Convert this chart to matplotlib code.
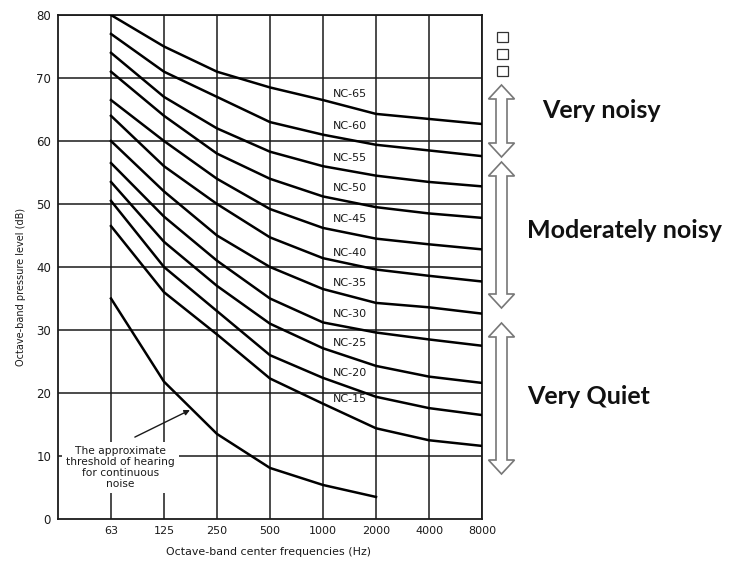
import matplotlib
matplotlib.use("Agg")
import matplotlib.pyplot as plt
from matplotlib.patches import Polygon, Rectangle

freqs = ['63', '125', '250', '500', '1000', '2000', '4000', '8000']
yticks = [0, 10, 20, 30, 40, 50, 60, 70, 80]

nc_names = ['NC-65', 'NC-60', 'NC-55', 'NC-50', 'NC-45', 'NC-40',
            'NC-35', 'NC-30', 'NC-25', 'NC-20', 'NC-15']
nc65 = [80, 75, 71, 68.5, 66.5, 64.3, 63.5, 62.7]
nc60 = [77, 71, 67, 63, 61, 59.4, 58.5, 57.6]
nc55 = [74, 67, 62, 58.3, 56, 54.5, 53.5, 52.8]
nc50 = [71, 64, 58, 54, 51.2, 49.5, 48.5, 47.8]
nc45 = [66.5, 60, 54, 49.2, 46.2, 44.5, 43.6, 42.8]
nc40 = [64, 56, 50, 44.7, 41.4, 39.6, 38.6, 37.7]
nc35 = [60, 52, 45, 40, 36.5, 34.3, 33.6, 32.6]
nc30 = [56.5, 48, 41, 35, 31.2, 29.6, 28.5, 27.5]
nc25 = [53.5, 44, 37, 31, 27.1, 24.3, 22.6, 21.6]
nc20 = [50.5, 40, 33, 26, 22.4, 19.4, 17.6, 16.5]
nc15 = [46.5, 36, 29.3, 22.3, 18.3, 14.4, 12.5, 11.6]
curves = [nc65, nc60, nc55, nc50, nc45, nc40, nc35, nc30, nc25, nc20, nc15]
# label heights (dB), placed between 1000 and 2000
label_y = [67.4, 62.4, 57.3, 52.5, 47.6, 42.3, 37.4, 32.5, 28, 23.2, 19]

threshold = [35, 21.8, 13.5, 8.1, 5.4, 3.5]  # 63..2000 Hz

zones = ['Very noisy', 'Moderately noisy', 'Very Quiet']

fig = plt.figure(figsize=(7.33, 5.63), dpi=100)
ax = fig.add_axes([58/733, 44/563, 424/733, 504/563])

x = list(range(len(freqs)))
ink = '#1a1a1a'

# grid
for xi in x:
    ax.axvline(xi, color=ink, lw=1.1, zorder=1)
for yv in yticks[1:]:
    ax.axhline(yv, color=ink, lw=1.1, zorder=1)

for c in curves:
    ax.plot(x, c, color='black', lw=1.8, zorder=3)
ax.plot(x[:len(threshold)], threshold, color='black', lw=1.8, zorder=3)

for name, ly in zip(nc_names, label_y):
    ax.text(4.5, ly, name, ha='center', va='center', fontsize=8, color=ink, zorder=4)

# threshold note, white box hides the grid behind it
ax.text(0.18, 8.2, 'The approximate\nthreshold of hearing\nfor continuous\nnoise',
        ha='center', va='center', fontsize=7.7, color=ink, linespacing=1.15,
        bbox=dict(boxstyle='square,pad=0.35', fc='white', ec='none'), zorder=5)
ax.annotate('', xy=(1.49, 17.3), xytext=(0.45, 13.0),
            arrowprops=dict(arrowstyle='-|>', color=ink, lw=1, mutation_scale=8,
                            shrinkA=0, shrinkB=0),
            zorder=6)

ax.set_xlim(-1, 7)
ax.set_ylim(0, 80)
ax.set_xticks(x)
ax.set_xticklabels(freqs, fontsize=8, color=ink)
ax.set_yticks(yticks)
ax.set_yticklabels([str(v) for v in yticks], fontsize=8.5, color=ink)
ax.tick_params(length=0, pad=5)
for s in ax.spines.values():
    s.set_color(ink)
    s.set_linewidth(1.3)

fig.text(0.366, 1 - 552/563, 'Octave-band center frequencies (Hz)', ha='center', va='center',
         fontsize=7.9, color=ink)
fig.text(0.028, 0.49, 'Octave-band pressure level (dB)', rotation=90, ha='center',
         va='center', fontsize=7, color=ink)

# right side: hollow double arrows (pixel outline -> figure fraction)
def darrow(xc, top, bot, hw=13, tw=5.5, hl=14):
    pts = [(xc, top), (xc + hw, top + hl), (xc + tw, top + hl), (xc + tw, bot - hl),
           (xc + hw, bot - hl), (xc, bot), (xc - hw, bot - hl), (xc - tw, bot - hl),
           (xc - tw, top + hl), (xc - hw, top + hl)]
    pts = [(px/733, 1 - py/563) for px, py in pts]
    return Polygon(pts, closed=True, transform=fig.transFigure, fc='white',
                   ec='#777777', lw=1.2)

spans = [(85, 157), (162, 308), (323, 474)]
for top, bot in spans:
    fig.patches.append(darrow(501.5, top, bot))

for yy in [32, 49, 66]:
    fig.patches.append(Rectangle((497/733, 1 - (yy + 10)/563), 11/733, 10/563,
                                 transform=fig.transFigure, fc='white', ec='#333333', lw=0.9))

fig.text(542/733, 1 - 110/563, zones[0], fontsize=18, fontweight='bold',
         family='Lato', va='center', ha='left', color='#111111')
fig.text(527/733, 1 - 231/563, zones[1], fontsize=18, fontweight='bold',
         family='Lato', va='center', ha='left', color='#111111')
fig.text(527/733, 1 - 396/563, zones[2], fontsize=18, fontweight='bold',
         family='Lato', va='center', ha='left', color='#111111')

fig.savefig('out.png', dpi=100)
